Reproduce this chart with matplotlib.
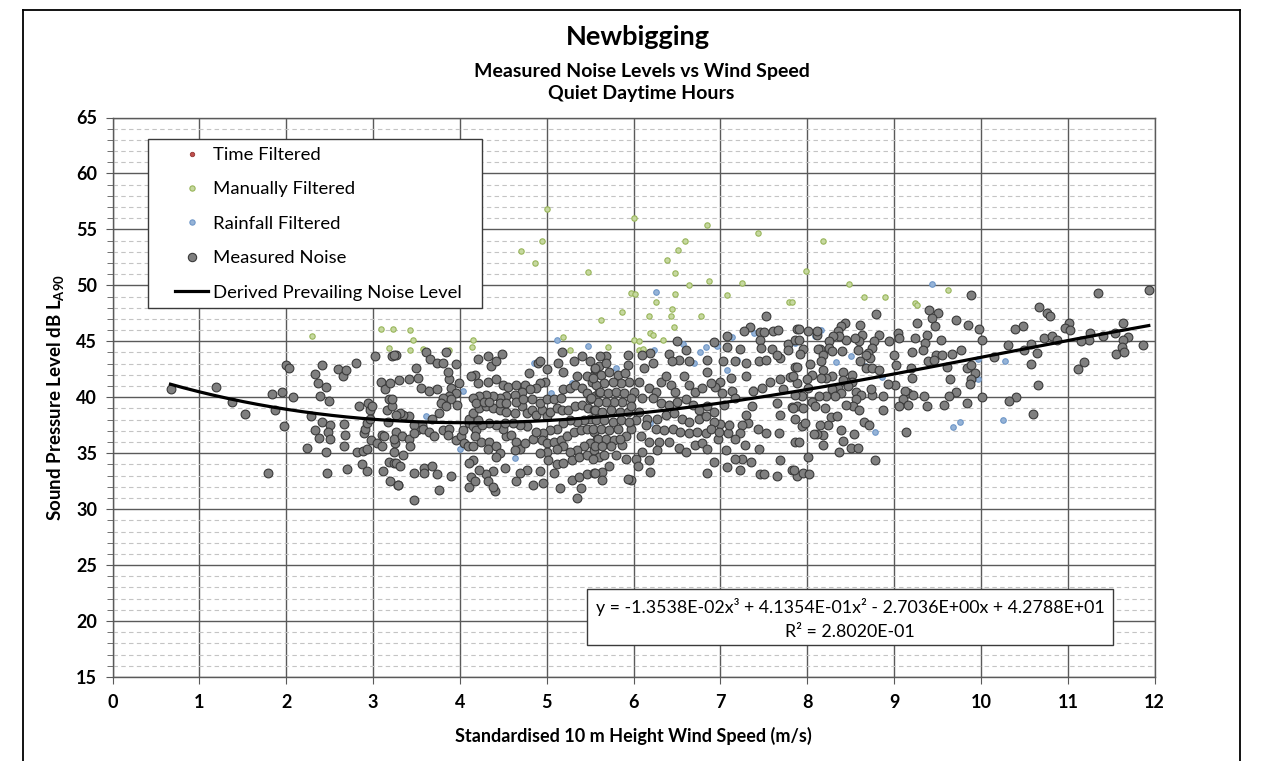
import matplotlib
matplotlib.use("Agg")
import matplotlib.pyplot as plt
from matplotlib.lines import Line2D
from matplotlib.patches import Rectangle
import numpy as np

plt.rcParams['font.family'] = ['Lato', 'DejaVu Sans']
plt.rcParams['mathtext.fontset'] = 'custom'
plt.rcParams['mathtext.rm'] = 'Lato'
plt.rcParams['mathtext.bf'] = 'Lato:bold'
plt.rcParams['mathtext.it'] = 'Lato:italic'

# ---------------- data (wind speed m/s, level dB) ----------------
time_filtered = []

manually_filtered = [
    (2.30, 45.5), (3.09, 46.1), (3.23, 46.1), (3.18, 44.4), (3.42, 46.0), (3.46, 45.1), (3.43, 44.2),
    (3.57, 44.3), (3.88, 44.25), (4.15, 45.1), (4.14, 44.5), (5.19, 45.4), (5.27, 44.25), (4.70, 53.1),
    (4.86, 52.0), (4.95, 54.0), (5.00, 56.8), (5.48, 51.2), (6.00, 56.0), (6.84, 55.4), (7.43, 54.7),
    (6.59, 54.0), (6.51, 53.2), (6.39, 52.3), (6.48, 51.1), (6.64, 50.0), (6.87, 50.4), (7.25, 50.2),
    (5.97, 49.3), (6.02, 49.2), (6.48, 49.2), (7.08, 49.1), (7.79, 48.5), (5.87, 47.6), (5.63, 46.9),
    (6.26, 48.5), (6.18, 47.3), (6.43, 47.3), (6.44, 47.9), (6.78, 47.3), (6.47, 46.3), (6.19, 45.7),
    (6.22, 45.6), (6.01, 45.1), (6.06, 45.0), (6.34, 45.1), (5.70, 44.5), (6.06, 44.25), (6.11, 44.3),
    (8.18, 54.0), (7.99, 51.3), (8.48, 50.15), (8.65, 49.0), (8.90, 49.0), (9.24, 48.4), (9.26, 48.2),
    (9.62, 49.6), (7.82, 48.5)]

rainfall_filtered = [
    (3.61, 38.3), (4.00, 35.4), (4.04, 40.6), (4.63, 34.6), (4.85, 43.1), (5.05, 40.4), (5.12, 45.1),
    (5.29, 41.3), (5.48, 44.6), (6.26, 49.4), (6.57, 44.8), (6.76, 44.0), (6.83, 44.5), (6.96, 44.55),
    (6.24, 44.2), (5.80, 42.6), (6.69, 43.1), (7.13, 45.4), (7.08, 42.4), (7.19, 43.3), (7.39, 45.7),
    (6.19, 37.7), (8.16, 46.05), (8.09, 45.45), (7.86, 44.85), (8.33, 43.15), (8.50, 43.7), (8.66, 42.8),
    (8.86, 41.8), (8.78, 36.9), (9.44, 50.1), (9.68, 37.3), (9.76, 37.8), (9.97, 43.4), (9.96, 41.6),
    (10.28, 43.2), (10.25, 38.0)]

measured_low_wind = [
    (0.67, 40.7), (1.19, 40.9), (1.38, 39.6), (1.53, 38.5), (1.79, 33.2), (1.84, 40.3), (1.87, 38.9),
    (1.95, 40.5), (1.98, 37.4), (2.00, 42.9), (2.03, 42.6), (2.08, 40.0), (2.24, 35.5), (2.29, 38.3),
    (2.33, 42.1), (2.33, 37.1), (2.37, 41.3), (2.38, 36.4), (2.39, 40.1), (2.41, 42.9), (2.41, 37.8),
    (2.46, 40.9), (2.46, 35.1), (2.47, 33.2), (2.49, 39.7), (2.50, 37.5), (2.48, 36.9), (2.51, 36.3),
    (2.60, 42.5), (2.65, 41.9), (2.69, 42.4), (2.66, 37.6), (2.68, 36.6), (2.67, 35.6), (2.70, 33.6),
    (2.80, 43.1), (2.81, 35.1), (2.84, 39.2), (2.88, 35.2), (2.87, 34.0), (2.90, 36.8), (2.91, 37.2),
    (2.93, 37.7), (2.93, 35.4), (2.93, 33.4), (2.94, 39.5), (2.96, 38.9), (2.97, 38.1), (2.98, 36.2),
    (2.99, 39.2), (3.02, 43.7), (3.04, 35.9), (3.09, 41.4), (3.10, 36.6), (3.10, 35.6), (3.11, 33.4),
    (3.13, 36.5), (3.14, 40.7), (3.16, 38.9), (3.17, 37.8), (3.18, 39.8), (3.19, 41.3), (3.20, 32.5),
    (3.18, 34.2), (3.22, 43.7), (3.24, 34.1), (3.25, 35.9), (3.27, 43.8), (3.29, 32.2)]

measured_mid_wind = [
    (3.24, 43.8), (3.61, 44.0), (3.66, 43.4), (3.74, 43.1), (3.80, 43.1), (3.84, 44.0), (3.95, 43.0),
    (3.49, 42.6), (3.52, 41.7), (3.30, 41.5), (3.41, 41.6), (3.55, 40.8), (3.64, 40.6), (3.74, 40.7),
    (3.88, 41.6), (3.90, 40.8), (3.86, 42.3), (3.99, 41.3), (3.95, 40.4), (3.87, 40.1), (3.80, 39.9),
    (3.78, 39.5), (3.90, 39.8), (3.84, 39.2), (3.97, 39.3), (3.76, 38.6), (3.68, 38.1), (3.56, 37.5),
    (3.51, 37.1), (3.47, 37.5), (3.41, 38.3), (3.35, 38.4), (3.31, 38.6), (3.26, 38.4), (3.22, 39.2),
    (3.22, 39.8), (3.27, 36.9), (3.24, 36.3), (3.33, 36.5), (3.41, 36.3), (3.47, 36.8), (3.57, 37.2),
    (3.43, 35.6), (3.24, 35.1), (3.35, 34.8), (3.26, 34.1), (3.31, 33.9), (3.47, 33.2), (3.59, 33.7),
    (3.59, 33.2), (3.68, 33.9), (3.74, 33.1), (3.90, 33.0), (3.76, 31.7), (3.47, 30.8), (3.29, 32.2),
    (3.64, 36.9), (3.70, 36.5), (3.80, 37.1), (3.88, 37.2), (3.86, 36.6), (3.95, 36.2), (4.01, 36.5),
    (4.03, 37.1), (4.10, 37.7), (4.11, 38.1), (4.15, 37.4), (4.05, 35.9), (4.09, 35.6), (4.15, 35.6),
    (4.24, 36.0), (4.19, 37.1), (4.17, 36.5), (4.34, 36.0), (4.32, 35.4), (4.42, 35.6), (4.46, 35.0),
    (4.53, 36.5), (4.50, 37.2), (4.59, 36.6), (4.65, 36.0), (4.69, 35.4), (4.63, 35.3), (4.75, 35.9),
    (4.84, 36.3), (4.77, 37.4), (4.69, 37.5), (4.61, 37.7), (4.52, 37.7), (4.42, 37.5), (4.34, 37.7),
    (4.26, 37.5), (4.21, 38.0), (4.15, 38.6), (4.22, 39.0), (4.30, 39.2), (4.38, 39.0), (4.46, 38.9),
    (4.53, 38.7), (4.63, 38.6), (4.71, 39.2), (4.77, 38.6), (4.83, 38.9), (4.88, 38.4), (4.94, 38.9),
    (5.00, 38.3), (5.04, 38.7), (5.12, 39.0), (5.17, 38.9), (5.25, 38.9), (5.33, 39.2), (5.41, 39.3),
    (5.48, 39.0), (5.54, 38.9), (5.60, 38.6), (5.50, 38.1), (5.43, 38.0), (5.35, 37.8), (5.27, 38.0),
    (5.19, 37.7), (5.12, 37.2), (5.04, 37.1), (4.96, 36.8), (4.88, 36.9), (4.94, 36.2), (5.00, 35.9),
    (5.08, 36.0), (5.16, 36.2), (5.23, 36.5), (5.31, 36.9), (5.39, 37.1), (5.46, 37.2), (5.54, 36.9),
    (5.58, 36.3), (5.50, 35.9), (5.43, 35.6), (5.35, 35.3), (5.27, 35.1), (5.19, 35.6), (5.12, 35.4),
    (5.00, 35.1), (4.92, 35.0), (5.02, 34.4), (5.12, 34.0), (5.19, 34.1), (5.29, 34.4), (5.37, 34.7),
    (5.46, 34.8), (5.54, 35.3), (5.60, 34.7), (5.29, 32.6), (5.37, 32.9), (5.46, 33.1), (5.54, 33.2),
    (5.39, 31.9), (5.35, 31.0), (5.15, 31.9), (5.08, 33.2), (4.96, 32.3), (4.84, 32.2), (4.92, 33.4),
    (4.77, 33.5), (4.69, 33.2), (4.65, 32.5), (4.52, 33.7), (4.42, 34.7), (4.38, 33.4), (4.30, 33.1),
    (4.22, 33.5), (4.15, 34.4), (4.11, 34.1), (4.13, 32.9), (4.11, 32.0), (4.17, 32.5), (4.32, 32.5),
    (4.40, 31.6), (4.38, 32.0), (4.21, 41.3), (4.17, 42.0), (4.13, 41.9), (4.21, 43.4), (4.32, 43.7),
    (4.36, 42.8), (4.42, 43.2), (4.48, 43.9), (4.32, 41.4), (4.42, 41.6), (4.50, 41.1), (4.55, 40.9),
    (4.65, 41.1), (4.75, 41.1), (4.80, 42.2), (4.90, 43.1), (4.92, 43.2), (5.00, 42.5), (4.98, 41.4),
    (4.92, 41.3), (4.88, 40.8), (4.81, 40.7), (4.71, 40.5), (4.63, 40.2), (4.53, 40.1), (4.46, 39.9),
    (4.38, 40.1), (4.30, 40.2), (4.22, 40.1), (4.15, 39.9), (4.19, 39.5), (4.28, 39.6), (4.34, 39.6),
    (4.46, 39.5), (4.53, 39.5), (4.65, 39.6), (4.73, 39.8), (4.83, 39.8), (4.92, 39.5), (5.00, 39.8),
    (5.08, 39.8), (5.16, 39.9), (5.19, 40.7), (5.27, 40.8), (5.33, 41.1), (5.41, 40.8), (5.46, 40.4),
    (5.50, 39.8), (5.56, 40.1), (5.60, 40.5), (5.52, 41.4), (5.54, 42.0), (5.56, 42.5), (5.46, 41.9),
    (5.35, 41.9), (5.31, 43.2), (5.17, 44.0), (5.13, 43.1), (5.19, 42.3), (5.41, 43.7), (5.50, 43.2),
    (5.60, 42.8)]

measured_upper_mid_wind = [
    (7.53, 47.3), (7.34, 46.3), (7.27, 45.9), (7.45, 45.8), (7.50, 45.8), (7.60, 45.9), (7.66, 46.0),
    (7.88, 46.1), (7.08, 45.45), (7.46, 45.15), (6.50, 45.0), (6.92, 44.9), (6.60, 44.25), (7.08, 44.5),
    (7.23, 44.35), (7.47, 44.4), (7.59, 44.3), (7.78, 44.8), (7.86, 45.15), (6.41, 43.9), (6.19, 43.95),
    (6.10, 43.8), (5.94, 43.8), (5.68, 43.7), (5.61, 43.7), (6.52, 43.35), (6.64, 43.2), (6.44, 43.2),
    (6.22, 43.1), (6.12, 42.6), (5.93, 42.9), (5.68, 43.1), (6.85, 43.35), (6.85, 42.3), (7.03, 43.2),
    (7.17, 43.2), (7.29, 43.1), (7.44, 43.2), (7.53, 43.35), (7.69, 43.5), (7.65, 43.8), (7.78, 44.2),
    (7.86, 42.7), (7.29, 41.9), (7.12, 41.7), (7.00, 41.4), (6.94, 40.9), (7.13, 40.6), (7.02, 40.4),
    (7.04, 39.3), (7.17, 39.9), (7.38, 40.6), (7.48, 40.8), (7.57, 41.4), (7.69, 41.65), (7.80, 41.8),
    (7.88, 41.3), (7.72, 40.7), (7.65, 39.5), (7.82, 39.1), (7.69, 38.4), (7.86, 38.1), (7.86, 36.0),
    (7.67, 36.8), (7.53, 36.8), (7.43, 37.2), (7.32, 37.7), (7.36, 39.2), (7.29, 38.4), (7.25, 37.5),
    (7.23, 36.8), (7.28, 35.7), (7.17, 36.3), (7.09, 36.8), (7.10, 37.5), (7.00, 37.6), (6.97, 36.3),
    (7.06, 35.3), (7.25, 34.5), (7.17, 34.5), (7.35, 34.2), (7.23, 33.5), (7.44, 35.4), (7.08, 33.8),
    (6.93, 34.2), (6.85, 33.2), (7.46, 33.1), (7.50, 33.1), (7.65, 33.0), (7.69, 34.4), (7.82, 33.5),
    (7.88, 33.0), (6.18, 40.8), (6.26, 40.5), (6.31, 41.4), (6.37, 41.9), (6.43, 41.1), (6.48, 40.5),
    (6.58, 41.9), (6.64, 41.1), (6.71, 40.5), (6.79, 40.8), (6.89, 41.3), (6.06, 41.4), (6.01, 40.5),
    (6.10, 39.9), (6.22, 39.9), (6.31, 39.5), (6.41, 39.3), (6.50, 39.6), (6.60, 39.8), (6.68, 39.3),
    (6.75, 38.9), (6.85, 39.2), (6.92, 38.7), (6.06, 38.7), (6.16, 38.1), (6.27, 38.1), (6.37, 38.4),
    (6.47, 38.6), (6.56, 38.1), (6.64, 37.8), (6.75, 38.1), (6.83, 38.3), (6.92, 37.8), (6.26, 37.2),
    (6.35, 37.1), (6.45, 37.2), (6.54, 36.9), (6.64, 36.8), (6.73, 36.9), (6.83, 36.8), (6.89, 37.2),
    (6.98, 36.9), (6.08, 36.5), (6.18, 36.0), (6.29, 36.0), (6.41, 36.0), (6.52, 35.5), (6.60, 35.1),
    (6.71, 35.7), (6.79, 35.9), (6.85, 35.4), (6.27, 35.3), (6.18, 34.4), (6.03, 34.5), (6.05, 33.9),
    (5.97, 32.6), (5.94, 32.7), (6.19, 33.3), (6.10, 35.1), (6.14, 37.5), (6.03, 38.0), (5.97, 37.2),
    (5.91, 36.5), (5.87, 35.7), (5.80, 34.8), (5.66, 34.8), (5.64, 33.3), (5.64, 32.6), (5.55, 33.2),
    (5.72, 33.9), (5.91, 34.5), (5.55, 42.6), (5.63, 42.0), (5.72, 42.3), (5.82, 42.0), (5.90, 42.2),
    (5.95, 41.4), (5.85, 41.3), (5.76, 41.4), (5.66, 41.3), (5.57, 41.1), (5.53, 41.7), (5.61, 40.5),
    (5.70, 40.4), (5.80, 40.5), (5.89, 40.4), (5.97, 39.9), (5.87, 39.6), (5.78, 39.6), (5.68, 39.6),
    (5.59, 39.6), (5.51, 39.9), (5.55, 38.9), (5.64, 38.7), (5.74, 38.9), (5.84, 38.7), (5.93, 38.7),
    (5.97, 39.2), (5.57, 38.0), (5.66, 38.0), (5.76, 37.8), (5.85, 38.0), (5.95, 37.8), (5.53, 37.2),
    (5.63, 37.2), (5.72, 37.1), (5.82, 37.2), (5.59, 36.3), (5.68, 36.3), (5.78, 36.2), (5.55, 35.6),
    (5.64, 35.6), (5.74, 35.6), (5.84, 36.3), (5.53, 34.5)]

measured_high_wind = [
    (9.89, 49.1), (8.79, 47.4), (9.50, 47.5), (9.40, 47.8), (9.44, 47.1), (9.26, 46.6), (9.71, 46.9),
    (9.85, 46.5), (9.98, 46.1), (10.01, 45.15), (9.47, 46.35), (9.38, 45.6), (9.54, 45.15), (9.36, 44.85),
    (9.24, 45.3), (9.33, 44.25), (9.20, 44.0), (9.48, 43.8), (9.55, 43.8), (9.67, 43.9), (9.77, 44.25),
    (9.39, 43.2), (9.46, 43.35), (9.61, 42.7), (9.84, 42.6), (9.89, 42.9), (9.93, 42.2), (9.88, 41.6),
    (9.87, 41.2), (9.64, 41.65), (9.71, 40.5), (9.63, 40.15), (9.57, 39.3), (9.84, 39.5), (10.01, 40.0),
    (9.34, 40.1), (9.38, 39.2), (9.21, 41.7), (9.19, 42.6), (9.16, 40.4), (9.22, 40.2), (9.12, 40.6),
    (9.10, 39.8), (9.16, 39.3), (9.06, 39.2), (9.14, 36.9), (9.04, 45.75), (9.06, 45.3), (9.00, 43.8),
    (9.02, 42.9), (9.01, 41.1), (8.93, 41.2), (8.94, 45.0), (8.83, 45.6), (8.77, 45.0), (8.74, 44.4),
    (8.70, 43.95), (8.72, 43.5), (8.68, 42.6), (8.74, 42.6), (8.83, 42.4), (8.61, 46.5), (8.63, 45.6),
    (8.59, 45.0), (8.58, 44.25), (8.68, 43.8), (8.61, 43.2), (8.55, 45.3), (8.45, 45.15), (8.43, 46.6),
    (8.39, 46.35), (8.35, 45.95), (8.37, 45.45), (8.30, 45.45), (8.25, 45.0), (8.25, 44.4), (8.28, 44.1),
    (8.40, 44.1), (8.15, 44.3), (8.12, 44.3), (8.18, 43.8), (8.11, 45.6), (8.11, 45.9), (8.01, 45.95),
    (7.91, 46.1), (7.90, 45.15), (7.95, 44.3), (7.92, 43.9), (8.03, 42.95), (7.88, 42.7), (8.16, 43.2),
    (8.18, 42.45), (8.28, 41.9), (8.21, 41.7), (8.16, 41.7), (8.05, 42.0), (8.00, 41.6), (7.84, 41.9),
    (8.41, 42.3), (8.51, 42.0), (8.51, 41.4), (8.45, 41.4), (8.41, 41.55), (8.47, 41.0), (8.35, 40.8),
    (8.29, 40.75), (8.39, 40.4), (8.32, 40.1), (8.22, 40.1), (8.14, 40.1), (8.05, 39.6), (7.94, 40.1),
    (7.86, 40.2), (8.01, 40.8), (7.88, 39.2), (7.84, 39.0), (7.95, 39.0), (8.09, 39.2), (8.20, 39.0),
    (8.56, 40.5), (8.62, 40.2), (8.56, 39.8), (8.53, 39.2), (8.59, 38.9), (8.45, 39.3), (8.74, 40.2),
    (8.73, 40.7), (8.87, 40.15), (8.87, 38.9), (8.65, 37.8), (8.71, 37.5), (8.27, 38.2), (8.34, 38.3),
    (8.24, 37.5), (8.15, 37.5), (8.18, 36.6), (8.11, 36.7), (8.08, 36.7), (8.18, 35.7), (7.94, 37.4),
    (7.97, 37.7), (7.90, 36.0), (8.39, 37.1), (8.41, 36.1), (8.54, 36.7), (8.37, 35.1), (8.50, 35.5),
    (8.58, 35.5), (8.78, 34.4), (8.01, 34.7), (7.85, 33.5), (7.95, 33.2), (8.02, 33.1)]

measured_top_wind = [
    (11.94, 49.6), (11.35, 49.3), (10.67, 48.1), (10.76, 47.5), (10.79, 47.3), (10.48, 46.4), (10.39, 46.1),
    (11.01, 46.6), (10.97, 46.2), (11.03, 46.0), (11.63, 46.65), (10.73, 45.3), (10.82, 45.5), (10.88, 45.15),
    (11.25, 45.75), (11.24, 45.15), (11.15, 45.0), (11.40, 45.45), (11.54, 45.7), (11.69, 45.4), (11.63, 45.15),
    (10.31, 44.7), (10.57, 44.8), (10.49, 44.2), (10.64, 43.95), (11.62, 44.5), (11.56, 43.9), (11.65, 44.05),
    (11.87, 44.7), (10.15, 43.6), (10.58, 43.0), (11.19, 43.15), (11.12, 42.55), (10.66, 41.1), (10.40, 40.0),
    (10.32, 39.7), (10.60, 38.5)]

# Trend line shown on chart: y = a x^3 + b x^2 + c x + d
trend_coefficients = [-1.3538e-02, 4.1354e-01, -2.7036e+00, 4.2788e+01]
trend_range = [0.65, 11.95]

x_ticks = list(range(0, 13))
y_ticks = list(range(15, 66, 5))

# ---------------- figure ----------------
W, H = 1263, 761
fig = plt.figure(figsize=(W / 100, H / 100), dpi=100)
fig.patch.set_facecolor('white')

L, R, T, B = 112.5, 1154.7, 117.5, 677.0
ax = fig.add_axes([L / W, 1 - B / H, (R - L) / W, (B - T) / H])

def xy(points):
    if len(points) == 0:
        return np.array([]), np.array([])
    a = np.array(points, dtype=float)
    return a[:, 0], a[:, 1]

measured = (measured_low_wind + measured_mid_wind + measured_upper_mid_wind
            + measured_high_wind + measured_top_wind)

tx, ty = xy(time_filtered)
gx, gy = xy(manually_filtered)
bx, by = xy(rainfall_filtered)
mx, my = xy(measured)

ax.scatter(tx, ty, s=10, c='#c0504d', edgecolors='#943634', linewidths=0.6, zorder=2)
ax.scatter(gx, gy, s=15, c='#c6d89f', edgecolors='#98b55a', linewidths=0.8, zorder=2)
ax.scatter(bx, by, s=16, c='#95b3d7', edgecolors='#6f97c8', linewidths=0.8, zorder=2)
ax.scatter(mx, my, s=40, c='#7f7f7f', edgecolors='#3a3a3a', linewidths=0.8, zorder=3)

xs = np.linspace(trend_range[0], trend_range[1], 200)
ax.plot(xs, np.polyval(trend_coefficients, xs), color='black', lw=2.3, zorder=4,
        solid_capstyle='butt')

ax.set_xlim(0, 12)
ax.set_ylim(15, 65)
ax.set_xticks(x_ticks)
ax.set_yticks(y_ticks)
ax.set_yticks(range(15, 66), minor=True)
ax.set_axisbelow(True)
ax.grid(which='major', color='#5a5a5a', lw=1.0)
ax.yaxis.grid(which='minor', color='#c4c4c4', lw=0.8, ls=(0, (4, 3)))
ax.xaxis.grid(which='minor', visible=False)
for s in ax.spines.values():
    s.set_color('#5a5a5a')
    s.set_linewidth(1.0)

ax.tick_params(axis='both', which='major', direction='out', color='#5a5a5a', labelcolor='black')
ax.tick_params(axis='x', which='major', length=5, pad=7, labelsize=13)
ax.tick_params(axis='y', which='major', length=5, pad=6, labelsize=13)
ax.tick_params(axis='y', which='minor', length=4, color='#5a5a5a', direction='out')
for lab in ax.get_xticklabels() + ax.get_yticklabels():
    lab.set_fontweight('bold')

ax.set_xlabel('Standardised 10 m Height Wind Speed (m/s)', fontsize=13, fontweight='bold')
ax.xaxis.set_label_coords(0.5, -(736 - B) / (B - T))
ax.xaxis.label.set_verticalalignment('center')
ax.set_ylabel(r'Sound Pressure Level dB L$_{\mathbf{A90}}$', fontsize=13.5, fontweight='bold')
ax.yaxis.set_label_coords(-(L - 56) / (R - L), 0.5)
ax.yaxis.label.set_verticalalignment('center')

# titles
fig.text(0.505, 1 - 37 / H, 'Newbigging', ha='center', va='center', fontsize=19.5, fontweight='bold')
fig.text(0.508, 1 - 72 / H, 'Measured Noise Levels vs Wind Speed', ha='center', va='center',
         fontsize=14, fontweight='bold')
fig.text(0.508, 1 - 93 / H, 'Quiet Daytime Hours', ha='center', va='center',
         fontsize=14, fontweight='bold')

# legend
fs_leg = 13.3
fs_px = fs_leg * 100 / 72
handles = [
    Line2D([], [], ls='none', marker='o', ms=3.2, mfc='#c0504d', mec='#943634', mew=0.6),
    Line2D([], [], ls='none', marker='o', ms=3.8, mfc='#c6d89f', mec='#98b55a', mew=0.8),
    Line2D([], [], ls='none', marker='o', ms=3.8, mfc='#95b3d7', mec='#6f97c8', mew=0.8),
    Line2D([], [], ls='none', marker='o', ms=6.0, mfc='#7f7f7f', mec='#3a3a3a', mew=0.8),
    Line2D([], [], color='black', lw=2.3),
]
labels = ['Time Filtered', 'Manually Filtered', 'Rainfall Filtered', 'Measured Noise',
          'Derived Prevailing Noise Level']
ax.add_patch(Rectangle((148 / W, 1 - 308 / H), 334 / W, 169 / H, transform=fig.transFigure,
                       facecolor='white', edgecolor='#3a3a3a', lw=1.0, zorder=4.5, clip_on=False))
leg = ax.legend(handles, labels, loc='upper left', bbox_to_anchor=(175 / W, 1 - 147 / H),
                bbox_transform=fig.transFigure, frameon=False, fontsize=fs_leg,
                borderpad=0, borderaxespad=0, handlelength=33 / fs_px,
                handletextpad=5 / fs_px, labelspacing=1.0)
leg.set_zorder(6)

# equation box
ax.add_patch(Rectangle((587 / W, 1 - 645 / H), 526 / W, 56 / H, transform=fig.transFigure,
                       facecolor='white', edgecolor='#3a3a3a', lw=1.0, zorder=4.5, clip_on=False))
ax.text(850 / W, 1 - 607 / H, 'y = -1.3538E-02x³ + 4.1354E-01x² - 2.7036E+00x + 4.2788E+01',
        transform=fig.transFigure, ha='center', va='center', fontsize=12.8, zorder=6)
ax.text(850 / W, 1 - 632 / H, 'R² = 2.8020E-01', transform=fig.transFigure,
        ha='center', va='center', fontsize=12.8, zorder=6)

# chart area border
fig.add_artist(Line2D([23 / W, 23 / W], [0, 1 - 10 / H], transform=fig.transFigure, color='black', lw=1.3))
fig.add_artist(Line2D([23 / W, 1240 / W], [1 - 10 / H, 1 - 10 / H], transform=fig.transFigure, color='black', lw=1.3))
fig.add_artist(Line2D([1240 / W, 1240 / W], [0, 1 - 10 / H], transform=fig.transFigure, color='black', lw=1.3))

fig.savefig('out.png', dpi=100, facecolor='white')
